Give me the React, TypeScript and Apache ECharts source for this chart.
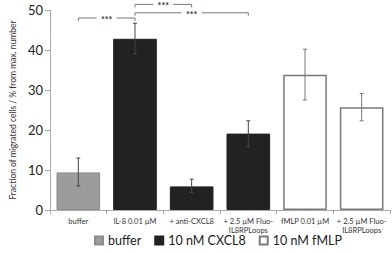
import React, { useEffect, useRef } from "react";
import * as echarts from "echarts";

const categories = [
  "buffer",
  "IL-8 0.01 µM",
  "+ anti-CXCL8",
  "+ 2.5 µM Fluo-\nIL8RPLoops",
  "fMLP 0.01 µM",
  "+ 2.5 µM Fluo-\nIL8RPLoops",
];
const bufferValues = [9.4, "-", "-", "-", "-", "-"];
const cxcl8Values = ["-", 42.8, 5.9, 19.1, "-", "-"];
const fmlpValues = ["-", "-", "-", "-", 33.8, 25.7];
// [category index, low, high]
const errorBars = [
  [0, 6.0, 13.0],
  [1, 39.0, 46.7],
  [2, 4.4, 7.7],
  [3, 15.8, 22.3],
  [4, 27.5, 40.2],
  [5, 22.3, 29.1],
];
// [from index, to index, level, label]
const brackets = [
  [0, 1, 48.0, "***"],
  [1, 2, 51.4, "***"],
  [1, 3, 49.3, "***"],
];
const yTicks = { min: 0, max: 50, interval: 10 };

const FONT = "Lato, 'Open Sans', sans-serif";

export default function App() {
  const ref = useRef<HTMLDivElement>(null);
  useEffect(() => {
    if (!ref.current) return;
    const chart = echarts.init(ref.current, undefined, { renderer: "svg" });
    chart.setOption({
      animation: false,
      textStyle: { fontFamily: FONT },
      grid: { left: 39, right: 2, top: 10, bottom: 43, containLabel: false },
      legend: {
        left: 89,
        top: 229,
        itemWidth: 8,
        itemHeight: 8,
        itemGap: 13,
        icon: "rect",
        textStyle: { fontSize: 12.5, color: "#222", fontFamily: FONT },
        data: ["buffer", "10 nM CXCL8", "10 nM fMLP"],
      },
      xAxis: {
        type: "category",
        data: categories,
        axisLine: { lineStyle: { color: "#aaa", width: 1 } },
        axisTick: { show: true, length: 4, lineStyle: { color: "#aaa" } },
        axisLabel: {
          interval: 0,
          fontSize: 7.5,
          color: () => "#333",
          lineHeight: 9,
          margin: 7,
          fontFamily: FONT,
        },
      },
      yAxis: {
        type: "value",
        min: yTicks.min,
        max: yTicks.max,
        interval: yTicks.interval,
        name: "Fraction of migrated cells / % from max. number",
        nameLocation: "middle",
        nameGap: 32,
        nameTextStyle: { fontSize: 8.5, color: "#333", fontFamily: FONT },
        axisLine: { show: true, lineStyle: { color: "#aaa", width: 1 } },
        axisTick: { show: true, length: 5, lineStyle: { color: "#aaa" } },
        splitLine: { show: false },
        axisLabel: { fontSize: 13, color: "#222", margin: 7, fontFamily: FONT },
      },
      series: [
        {
          name: "buffer",
          type: "bar",
          stack: "a",
          barWidth: "77%",
          data: bufferValues,
          itemStyle: { color: "#9c9c9c", borderColor: "#8c8c8c", borderWidth: 1 },
        },
        {
          name: "10 nM CXCL8",
          type: "bar",
          stack: "a",
          barWidth: "77%",
          data: cxcl8Values,
          itemStyle: { color: "#222222", borderColor: "#222222", borderWidth: 1 },
        },
        {
          name: "10 nM fMLP",
          type: "bar",
          stack: "a",
          barWidth: "77%",
          data: fmlpValues,
          itemStyle: { color: "#ffffff", borderColor: "#7a7a7a", borderWidth: 1.5 },
        },
        {
          type: "custom",
          silent: true,
          z: 10,
          data: errorBars,
          encode: { x: 0, y: [1, 2] },
          renderItem: (params: any, api: any) => {
            const i = api.value(0);
            const lo = api.coord([i, api.value(1)]);
            const hi = api.coord([i, api.value(2)]);
            const color = i >= 4 ? "#777" : "#444";
            const cap = 2;
            const style = { stroke: color, lineWidth: 1, fill: "none" };
            return {
              type: "group",
              children: [
                { type: "line", shape: { x1: lo[0], y1: lo[1], x2: hi[0], y2: hi[1] }, style },
                { type: "line", shape: { x1: lo[0] - cap, y1: lo[1], x2: lo[0] + cap, y2: lo[1] }, style },
                { type: "line", shape: { x1: hi[0] - cap, y1: hi[1], x2: hi[0] + cap, y2: hi[1] }, style },
              ],
            };
          },
        },
        {
          type: "custom",
          silent: true,
          clip: false,
          z: 11,
          data: brackets.map((b) => [b[0], b[1], b[2]]),
          encode: { x: [0, 1], y: 2 },
          renderItem: (params: any, api: any) => {
            const a = api.coord([api.value(0), api.value(2)]);
            const b = api.coord([api.value(1), api.value(2)]);
            const label = brackets[params.dataIndex][3] as string;
            const y = a[1];
            const mid = (a[0] + b[0]) / 2;
            const tw = 20;
            const style = { stroke: "#777", lineWidth: 1, fill: "none" };
            return {
              type: "group",
              children: [
                {
                  type: "polyline",
                  shape: { points: [[a[0], y + 3], [a[0], y], [mid - tw / 2, y]] },
                  style,
                },
                {
                  type: "polyline",
                  shape: { points: [[mid + tw / 2, y], [b[0], y], [b[0], y + 3]] },
                  style,
                },
                {
                  type: "text",
                  x: mid,
                  y: y + 1.5,
                  style: {
                    text: label,
                    fontSize: 9,
                    fontWeight: "bold",
                    fill: "#333",
                    align: "center",
                    verticalAlign: "middle",
                    fontFamily: FONT,
                  },
                },
              ],
            };
          },
        },
      ],
    });
    return () => chart.dispose();
  }, []);
  return (
    <div
      ref={ref}
      style={{ position: "fixed", left: 0, top: 0, width: 392, height: 253, background: "#fff" }}
    />
  );
}
